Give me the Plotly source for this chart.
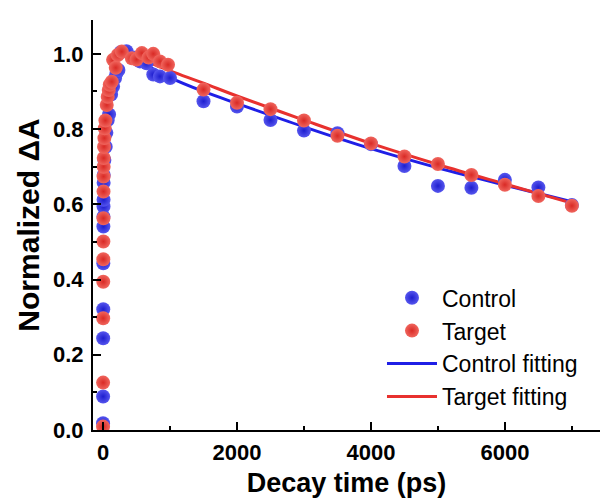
import plotly.graph_objects as go

# ---- data ----
control_t = [0, 1, 2, 3, 4, 5, 6, 7, 8, 9, 10, 20, 40, 50, 70, 90, 120, 150, 180, 200,
             230, 260, 350, 450, 550, 650, 750, 850, 1000, 1500, 2000, 2500, 3000, 3500,
             4000, 4500, 5000, 5500, 6000, 6500, 7000]
control_y = [0.018, 0.089, 0.244, 0.321, 0.443, 0.541, 0.567, 0.594, 0.612, 0.657, 0.678,
             0.718, 0.753, 0.790, 0.824, 0.839, 0.892, 0.913, 0.936, 0.949, 0.957, 1.004,
             1.007, 0.99, 0.98, 0.975, 0.945, 0.94, 0.936, 0.874, 0.860, 0.824, 0.796,
             0.789, 0.760, 0.702, 0.649, 0.644, 0.665, 0.645, 0.598]

target_t = [0, 1, 2, 3, 4, 5, 6, 7, 8, 9, 10, 15, 20, 25, 35, 55, 70, 85, 100, 130,
            150, 190, 220, 280, 430, 500, 580, 680, 750, 850, 970, 1500, 2000, 2500,
            3000, 3500, 4000, 4500, 5000, 5500, 6000, 6500, 7000]
target_y = [0.009, 0.126, 0.297, 0.394, 0.454, 0.501, 0.563, 0.634, 0.674, 0.700, 0.723,
            0.753, 0.776, 0.802, 0.823, 0.864, 0.886, 0.904, 0.918, 0.926, 0.984, 0.963,
            0.997, 1.006, 0.988, 0.985, 1.002, 0.99, 1.0, 0.980, 0.971, 0.905, 0.870,
            0.853, 0.823, 0.782, 0.762, 0.727, 0.707, 0.678, 0.652, 0.622, 0.596]

control_fit_t = [300, 600, 1000, 1500, 2000, 3000, 4000, 5000, 6000, 7000]
control_fit_y = [1.01, 0.975, 0.937, 0.900, 0.868, 0.806, 0.748, 0.697, 0.651, 0.607]

target_fit_t = [200, 500, 1000, 1500, 2000, 3000, 4000, 5000, 6000, 7000]
target_fit_y = [1.01, 0.99, 0.955, 0.922, 0.888, 0.824, 0.762, 0.706, 0.654, 0.603]

x_ticks = [0, 2000, 4000, 6000]
y_ticks = [0.0, 0.2, 0.4, 0.6, 0.8, 1.0]

BLUE = "#1e1ecf"
BLUE_C = "#5656ee"
RED = "#d92a25"
RED_C = "#f0665e"
BLUE_LINE = "#1f1fe6"
RED_LINE = "#e8312e"
FONT = "Liberation Sans, Arial, sans-serif"

fig = go.Figure()

fig.add_trace(go.Scatter(x=control_fit_t, y=control_fit_y, mode="lines",
                         name="Control fitting", line=dict(color=BLUE_LINE, width=3),
                         line_shape="spline", legendrank=3, legendgroup="c3"))
fig.add_trace(go.Scatter(x=target_fit_t, y=target_fit_y, mode="lines",
                         name="Target fitting", line=dict(color=RED_LINE, width=3),
                         line_shape="spline", legendrank=4, legendgroup="c4"))
fig.add_trace(go.Scatter(x=control_t, y=control_y, mode="markers", name="Control",
                         marker=dict(size=14, color=BLUE_C,
                                     gradient=dict(type="radial", color=BLUE),
                                     line=dict(width=0)),
                         legendrank=1, legendgroup="c1"))
fig.add_trace(go.Scatter(x=target_t, y=target_y, mode="markers", name="Target",
                         marker=dict(size=14, color=RED_C,
                                     gradient=dict(type="radial", color=RED),
                                     line=dict(width=0)),
                         legendrank=2, legendgroup="c2"))

axis_common = dict(
    showline=True, linecolor="black", linewidth=2,
    ticks="inside", ticklen=8, tickwidth=2, tickcolor="black",
    showgrid=False, zeroline=False, mirror=False,
    tickfont=dict(family=FONT, size=22, color="black", weight="bold"),
)

fig.update_xaxes(
    range=[-150, 7420], tickvals=x_ticks, ticktext=[str(v) for v in x_ticks],
    minor=dict(ticks="inside", ticklen=4, tickwidth=2, tickcolor="black", dtick=1000,
               tick0=0, showgrid=False),
    ticklabelstandoff=2,
    title=dict(text="Decay time (ps)", standoff=9,
               font=dict(family=FONT, size=27, color="black", weight="bold")),
    **axis_common,
)
fig.update_yaxes(
    range=[0, 1.09], tickvals=y_ticks, ticktext=[f"{v:.1f}" for v in y_ticks],
    minor=dict(ticks="inside", ticklen=4, tickwidth=2, tickcolor="black", dtick=0.1,
               tick0=0, showgrid=False),
    ticklabelstandoff=3,
    title=dict(text="Normalized ΔA", standoff=5,
               font=dict(family=FONT, size=30, color="black", weight="bold")),
    **axis_common,
)

fig.update_layout(
    width=600, height=503,
    margin=dict(l=93, r=0, t=20, b=73),
    plot_bgcolor="white", paper_bgcolor="white",
    showlegend=True,
    legend=dict(x=0.57, y=0.375, xanchor="left", yanchor="top",
                bgcolor="rgba(0,0,0,0)", borderwidth=0,
                tracegroupgap=0, itemwidth=50,
                font=dict(family=FONT, size=23, color="black")),
)

fig.write_html("out.html")
